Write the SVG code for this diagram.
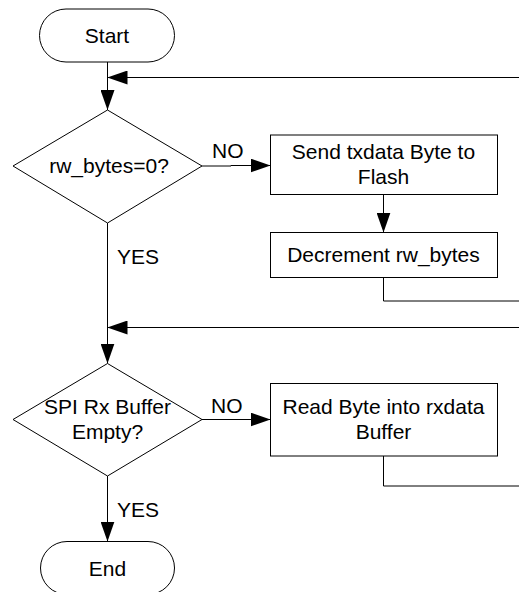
<svg xmlns="http://www.w3.org/2000/svg" width="519" height="592" viewBox="0 0 519 592">
  <style>
    .shape { fill: #ffffff; stroke: #000000; stroke-width: 1; }
    .conn { fill: none; stroke: #000000; stroke-width: 1; }
    text { font-family: "Liberation Sans", Arial, Helvetica, sans-serif; font-size: 21px; fill: #000000; }
    .c { text-anchor: middle; }
  </style>
  <defs>
    <marker id="arrow" viewBox="0 0 20 14" refX="20" refY="7" markerWidth="20" markerHeight="14" markerUnits="userSpaceOnUse" orient="auto">
      <path d="M0,0 L20,7 L0,14 Z" fill="#000000"/>
    </marker>
  </defs>

  <rect width="519" height="592" fill="#ffffff"/>

  <!-- connectors -->
  <g id="connectors">
    <path class="conn" d="M107.5,62 V110" marker-end="url(#arrow)"/>
    <path class="conn" d="M519,77.5 H107.5" marker-end="url(#arrow)"/>
    <path class="conn" d="M202,166 H231 V165.5 H270.5" marker-end="url(#arrow)"/>
    <path class="conn" d="M383.5,194.5 V232.5" marker-end="url(#arrow)"/>
    <path class="conn" d="M383.5,277.5 V301 H519"/>
    <path class="conn" d="M107.5,223 V363.5" marker-end="url(#arrow)"/>
    <path class="conn" d="M519,327.5 H107.5" marker-end="url(#arrow)"/>
    <path class="conn" d="M202,419.5 H270.5" marker-end="url(#arrow)"/>
    <path class="conn" d="M383.5,456 V486 H519"/>
    <path class="conn" d="M107.5,476 V541.5" marker-end="url(#arrow)"/>
    <text x="212" y="158">NO</text>
    <text x="117" y="264">YES</text>
    <text x="211" y="413">NO</text>
    <text x="117" y="517">YES</text>
  </g>

  <!-- nodes -->
  <g id="start">
    <rect class="shape" x="39.5" y="9" width="135" height="53" rx="26.5" ry="26.5"/>
    <text class="c" x="107" y="43">Start</text>
  </g>

  <g id="check-rw-bytes">
    <polygon class="shape" points="107.5,110 202,166 107.5,223 13,166"/>
    <text class="c" x="109" y="173">rw_bytes=0?</text>
  </g>

  <g id="send-byte">
    <rect class="shape" x="270.5" y="135" width="227" height="59.5"/>
    <text class="c" x="383.5" y="159">Send txdata Byte to</text>
    <text class="c" x="383.5" y="184">Flash</text>
  </g>

  <g id="decrement">
    <rect class="shape" x="270.5" y="232.5" width="227" height="45"/>
    <text class="c" x="383.5" y="261.5">Decrement rw_bytes</text>
  </g>

  <g id="check-rx-empty">
    <polygon class="shape" points="107.5,363.5 202,419.5 107.5,476 13,419.5"/>
    <text class="c" x="107.5" y="414">SPI Rx Buffer</text>
    <text class="c" x="107.5" y="438.5">Empty?</text>
  </g>

  <g id="read-byte">
    <rect class="shape" x="270.5" y="383.5" width="227" height="72.5"/>
    <text class="c" x="383.5" y="414">Read Byte into rxdata</text>
    <text class="c" x="383.5" y="438.5">Buffer</text>
  </g>

  <g id="end">
    <rect class="shape" x="40.5" y="541.5" width="134" height="53" rx="26.5" ry="26.5"/>
    <text class="c" x="107.5" y="576">End</text>
  </g>
</svg>
